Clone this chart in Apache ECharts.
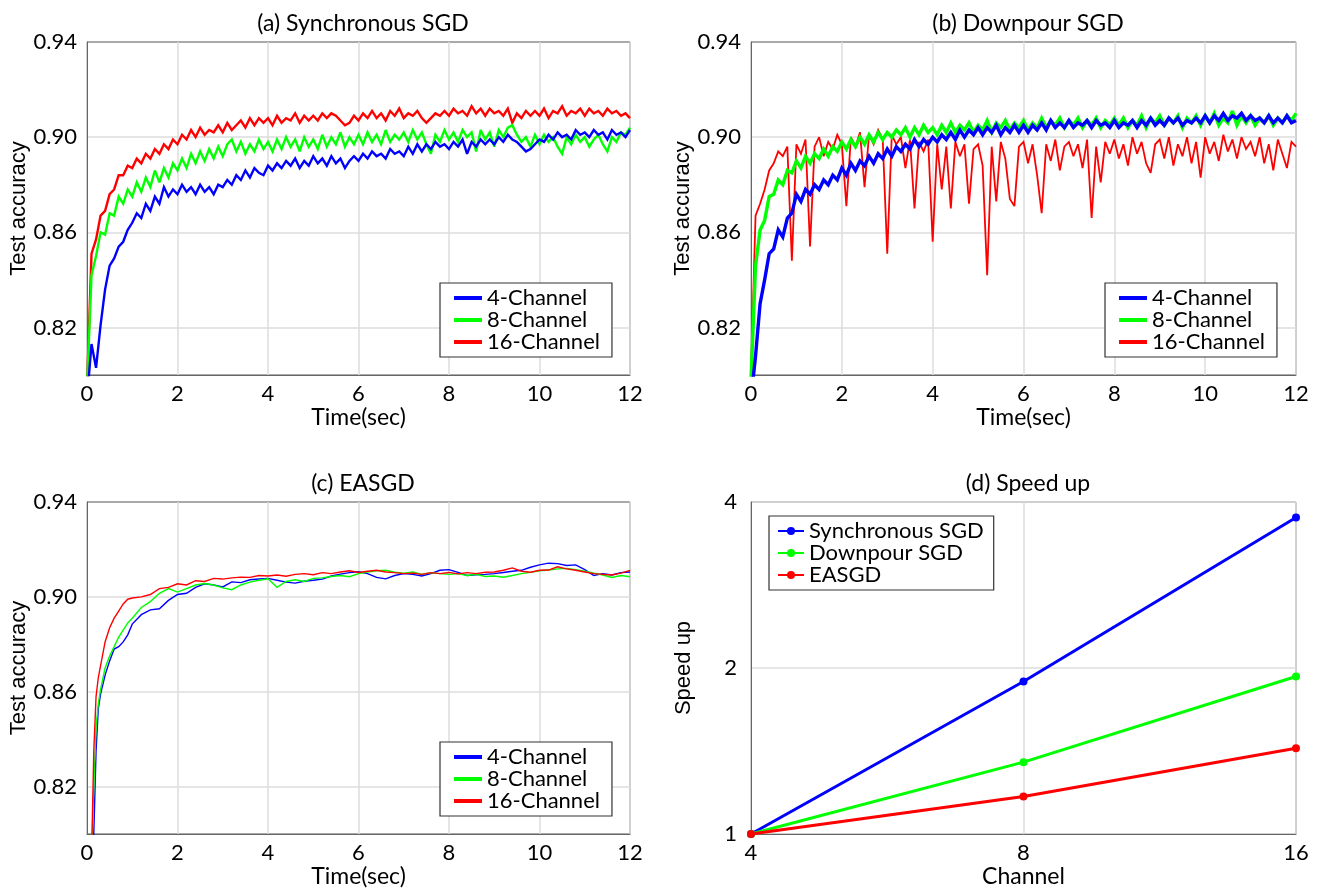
<!DOCTYPE html>
<html>
<head>
<meta charset="utf-8">
<script src="https://cdn.jsdelivr.net/npm/echarts@6/dist/echarts.min.js"></script>
<style>
html,body{margin:0;padding:0;background:#fff;}
#chart{width:1321px;height:891px;}
</style>
</head>
<body>
<div id="chart"></div>
<script>
// ---------- DATA ----------
// panels (a) and (b): samples every 0.1 s from 0 to 12 s
const timeStepAB = 0.1;
const sampleCountAB = 121;

const syncCh4 = [
0.790,0.813,0.803,0.821,0.836,0.846,0.849,0.854,0.856,0.861,
0.864,0.868,0.866,0.872,0.869,0.875,0.872,0.879,0.875,0.878,
0.876,0.880,0.877,0.879,0.876,0.880,0.877,0.879,0.876,0.880,
0.879,0.882,0.880,0.884,0.882,0.886,0.883,0.887,0.885,0.884,
0.888,0.886,0.889,0.887,0.890,0.888,0.891,0.887,0.890,0.888,
0.892,0.889,0.891,0.888,0.892,0.889,0.891,0.887,0.890,0.892,
0.890,0.893,0.891,0.894,0.892,0.893,0.891,0.895,0.893,0.894,
0.892,0.896,0.893,0.897,0.894,0.897,0.895,0.898,0.896,0.897,
0.895,0.898,0.896,0.899,0.893,0.898,0.896,0.899,0.897,0.899,
0.897,0.900,0.898,0.901,0.899,0.898,0.896,0.894,0.895,0.897,
0.899,0.898,0.901,0.899,0.902,0.900,0.901,0.899,0.903,0.901,
0.902,0.900,0.903,0.901,0.902,0.899,0.903,0.901,0.902,0.900,0.903];
const syncCh8 = [
0.795,0.842,0.850,0.860,0.859,0.868,0.867,0.875,0.872,0.878,
0.875,0.881,0.877,0.883,0.879,0.886,0.881,0.887,0.883,0.889,
0.886,0.891,0.887,0.893,0.889,0.894,0.890,0.895,0.891,0.896,
0.892,0.897,0.899,0.894,0.898,0.893,0.897,0.894,0.899,0.895,
0.898,0.894,0.899,0.895,0.900,0.896,0.899,0.894,0.900,0.896,
0.899,0.895,0.901,0.896,0.900,0.897,0.902,0.896,0.900,0.897,
0.901,0.897,0.902,0.898,0.901,0.897,0.903,0.898,0.901,0.899,
0.902,0.898,0.903,0.899,0.902,0.897,0.893,0.901,0.898,0.903,
0.899,0.902,0.898,0.903,0.900,0.902,0.894,0.903,0.899,0.902,
0.896,0.903,0.900,0.904,0.905,0.901,0.898,0.900,0.896,0.901,
0.897,0.901,0.898,0.900,0.896,0.893,0.900,0.897,0.901,0.898,
0.900,0.896,0.899,0.901,0.897,0.894,0.900,0.898,0.902,0.901,0.904];
const syncCh16 = [
0.795,0.851,0.857,0.867,0.869,0.876,0.878,0.884,0.884,0.888,
0.887,0.891,0.889,0.893,0.891,0.895,0.893,0.897,0.895,0.899,
0.897,0.901,0.899,0.903,0.900,0.904,0.901,0.903,0.902,0.905,
0.902,0.906,0.903,0.905,0.907,0.904,0.908,0.905,0.908,0.906,
0.908,0.905,0.909,0.906,0.908,0.907,0.910,0.906,0.909,0.907,
0.909,0.907,0.910,0.908,0.910,0.909,0.907,0.905,0.906,0.909,
0.907,0.910,0.908,0.911,0.908,0.910,0.907,0.911,0.909,0.912,
0.908,0.910,0.909,0.911,0.908,0.906,0.908,0.910,0.909,0.911,
0.909,0.912,0.910,0.911,0.909,0.913,0.910,0.912,0.909,0.912,
0.910,0.911,0.909,0.912,0.906,0.910,0.908,0.911,0.909,0.911,
0.909,0.912,0.908,0.911,0.910,0.913,0.909,0.911,0.910,0.912,
0.909,0.912,0.910,0.911,0.909,0.912,0.910,0.911,0.909,0.910,0.908];

const downCh4 = [
0.790,0.808,0.830,0.840,0.851,0.853,0.861,0.858,0.866,0.868,
0.876,0.873,0.878,0.876,0.880,0.878,0.882,0.880,0.884,0.882,
0.887,0.884,0.889,0.886,0.890,0.888,0.892,0.889,0.893,0.891,
0.895,0.892,0.896,0.894,0.897,0.895,0.899,0.896,0.899,0.897,
0.900,0.898,0.901,0.899,0.902,0.899,0.903,0.900,0.903,0.901,
0.904,0.901,0.904,0.902,0.905,0.901,0.904,0.902,0.905,0.902,
0.905,0.902,0.905,0.903,0.906,0.903,0.907,0.904,0.906,0.904,
0.907,0.904,0.906,0.905,0.907,0.904,0.907,0.905,0.906,0.904,
0.907,0.904,0.906,0.905,0.907,0.904,0.907,0.905,0.908,0.905,
0.907,0.905,0.908,0.906,0.908,0.905,0.907,0.906,0.908,0.906,
0.909,0.906,0.909,0.907,0.910,0.907,0.909,0.908,0.910,0.907,
0.909,0.907,0.908,0.906,0.909,0.906,0.908,0.906,0.909,0.906,0.907];
const downCh8 = [
0.798,0.846,0.861,0.865,0.875,0.876,0.882,0.880,0.886,0.885,
0.890,0.887,0.892,0.889,0.893,0.891,0.895,0.892,0.896,0.894,
0.898,0.895,0.899,0.896,0.900,0.897,0.901,0.898,0.902,0.899,
0.902,0.900,0.903,0.901,0.904,0.900,0.904,0.901,0.905,0.902,
0.904,0.901,0.905,0.902,0.906,0.902,0.905,0.903,0.906,0.902,
0.905,0.903,0.907,0.902,0.906,0.904,0.907,0.903,0.906,0.904,
0.907,0.903,0.906,0.904,0.908,0.904,0.907,0.905,0.908,0.904,
0.907,0.905,0.908,0.904,0.907,0.905,0.908,0.904,0.907,0.905,
0.908,0.905,0.908,0.904,0.907,0.905,0.909,0.904,0.908,0.906,
0.909,0.905,0.908,0.906,0.909,0.904,0.908,0.906,0.909,0.905,
0.909,0.906,0.910,0.905,0.908,0.906,0.911,0.905,0.909,0.906,
0.909,0.905,0.908,0.906,0.909,0.905,0.908,0.906,0.909,0.907,0.910];
const downCh16 = [
0.800,0.867,0.872,0.878,0.886,0.889,0.894,0.892,0.896,0.848,
0.897,0.893,0.899,0.854,0.896,0.900,0.892,0.898,0.895,0.901,
0.897,0.871,0.900,0.896,0.902,0.879,0.901,0.897,0.903,0.899,
0.851,0.901,0.897,0.900,0.887,0.899,0.870,0.898,0.894,0.899,
0.856,0.897,0.878,0.896,0.870,0.898,0.892,0.897,0.872,0.895,
0.897,0.888,0.842,0.896,0.873,0.898,0.891,0.874,0.871,0.896,
0.898,0.889,0.897,0.884,0.868,0.897,0.890,0.899,0.886,0.896,
0.898,0.892,0.897,0.887,0.899,0.866,0.896,0.881,0.898,0.893,
0.899,0.891,0.897,0.888,0.900,0.893,0.898,0.889,0.885,0.897,
0.899,0.891,0.900,0.888,0.897,0.892,0.900,0.889,0.898,0.883,
0.900,0.893,0.898,0.890,0.901,0.894,0.899,0.891,0.900,0.895,
0.898,0.892,0.900,0.889,0.897,0.886,0.899,0.893,0.887,0.898,0.896];

// panel (c): smoother curves, explicit sample times
const timeC = [0.1,0.15,0.2,0.25,0.3,0.4,0.5,0.6,0.7,0.8,0.9,
1.0,1.2,1.4,1.6,1.8,2.0,2.2,2.4,2.6,2.8,3.0,3.2,3.4,3.6,3.8,
4.0,4.2,4.4,4.6,4.8,5.0,5.2,5.4,5.6,5.8,6.0,6.2,6.4,6.6,6.8,
7.0,7.2,7.4,7.6,7.8,8.0,8.2,8.4,8.6,8.8,9.0,9.2,9.4,9.6,9.8,
10.0,10.2,10.4,10.6,10.8,11.0,11.2,11.4,11.6,11.8,12.0];
const easgdCh4 = [0.78,0.80,0.835,0.853,0.859,0.867,0.873,0.878,0.879,0.881,0.884,
0.8885,0.8925,0.8945,0.895,0.8985,0.901,0.9015,0.904,0.9055,0.905,
0.9042,0.9063,0.906,0.9072,0.9075,0.9078,0.907,0.9062,0.9058,0.9066,
0.907,0.9075,0.9088,0.9096,0.9102,0.9106,0.9098,0.9082,0.9076,0.909,
0.9098,0.9095,0.9088,0.9098,0.9112,0.9115,0.9103,0.909,0.9093,0.9095,
0.9098,0.9103,0.9108,0.9112,0.9125,0.9135,0.9142,0.914,0.9132,0.9135,
0.9115,0.909,0.9098,0.9092,0.9102,0.9105];
const easgdCh8 = [0.79,0.82,0.845,0.855,0.861,0.870,0.875,0.879,0.883,0.886,0.889,
0.891,0.8955,0.898,0.9015,0.9035,0.902,0.9035,0.905,0.9056,0.905,
0.9038,0.903,0.905,0.9062,0.907,0.9076,0.904,0.9065,0.9072,0.9065,
0.9078,0.908,0.9086,0.909,0.9085,0.9098,0.9105,0.911,0.9112,0.9104,
0.910,0.9105,0.9095,0.9102,0.9098,0.9095,0.9098,0.909,0.9095,0.9086,
0.9088,0.9083,0.909,0.9098,0.9103,0.911,0.9113,0.9118,0.912,0.9115,
0.9108,0.910,0.9092,0.9082,0.909,0.9085];
const easgdCh16 = [0.79,0.835,0.858,0.866,0.871,0.881,0.887,0.891,0.894,0.897,0.899,
0.8995,0.900,0.901,0.9035,0.904,0.9055,0.905,0.9068,0.9065,0.9078,
0.9075,0.908,0.9083,0.9082,0.909,0.9088,0.9092,0.9087,0.9095,0.9098,
0.9093,0.9102,0.9098,0.9105,0.911,0.9103,0.9108,0.9112,0.9105,0.9102,
0.9098,0.910,0.9095,0.9102,0.9098,0.9103,0.9097,0.9102,0.9098,0.9104,
0.9105,0.9112,0.9122,0.9108,0.9104,0.9112,0.9113,0.9127,0.9118,0.9112,
0.9105,0.9098,0.9095,0.9092,0.910,0.9112];

// panel (d)
const channels = [4, 8, 16];
const speedSync = [1, 1.89, 3.75];
const speedDownpour = [1, 1.35, 1.93];
const speedEasgd = [1, 1.17, 1.43];

const accTicks = [0.82, 0.86, 0.90, 0.94];
const seriesNames = ['4-Channel', '8-Channel', '16-Channel'];
const methodNames = ['Synchronous SGD', 'Downpour SGD', 'EASGD'];
const panelTitles = ['(a) Synchronous SGD', '(b) Downpour SGD', '(c) EASGD', '(d) Speed up'];

// ---------- STYLE / LAYOUT ----------
const BLUE = '#0000ff', GREEN = '#00ff00', RED = '#ff0000';
const FONT = 'Lato, "Liberation Sans", sans-serif';
const FONT2 = '"Liberation Sans", Arial, sans-serif';
const grids = [
  {left: 87, top: 42, width: 543, height: 333},
  {left: 751, top: 42, width: 545, height: 333},
  {left: 87, top: 502, width: 543, height: 332},
  {left: 751, top: 502, width: 545, height: 332}
];

const timesAB = [];
for (let i = 0; i < sampleCountAB; i++) timesAB.push(Math.round(i * timeStepAB * 10) / 10);
const pairs = (ts, vs) => vs.map((v, i) => [ts[i], v]);

function lineSeries(name, color, ts, vs, idx, width) {
  return {
    type: 'line', name, xAxisIndex: idx, yAxisIndex: idx,
    data: pairs(ts, vs), showSymbol: false, symbol: 'none',
    lineStyle: {color, width, join: 'miter', miterLimit: 3}, itemStyle: {color},
    clip: true, animation: false, emphasis: {disabled: true}
  };
}

const gridStyle = {show: true, borderColor: '#555', borderWidth: 1, backgroundColor: 'transparent'};

function accYAxis(idx) {
  return {
    gridIndex: idx, type: 'value', min: 0.80, max: 0.94,
    name: 'Test accuracy', nameLocation: 'middle', nameGap: 56,
    nameTextStyle: {fontFamily: FONT2, fontSize: 22, color: '#000'},
    axisLine: {show: true, lineStyle: {color: '#666', width: 1}},
    axisTick: {show: false, customValues: [0.82, 0.86, 0.90]},
    axisLabel: {customValues: accTicks, formatter: v => v.toFixed(2), fontFamily: FONT, fontSize: 22, color: '#000', margin: 10},
    splitLine: {show: true, lineStyle: {color: '#dcdcdc', width: 1.5}}
  };
}
function timeXAxis(idx) {
  return {
    gridIndex: idx, type: 'value', min: 0, max: 12, interval: 2,
    name: 'Time(sec)', nameLocation: 'middle', nameGap: 30,
    nameTextStyle: {fontFamily: FONT, fontSize: 23, color: '#000'},
    axisLine: {show: true, lineStyle: {color: '#666', width: 1}},
    axisTick: {show: false},
    axisLabel: {fontFamily: FONT, fontSize: 22, color: '#000', margin: 8},
    splitLine: {show: true, lineStyle: {color: '#dcdcdc', width: 1.5}}
  };
}

const legendBase = {
  orient: 'vertical', backgroundColor: '#fff', borderColor: '#333', borderWidth: 1.2,
  borderRadius: 0, itemGap: 0, textStyle: {fontFamily: FONT, fontSize: 22, color: '#000'},
  selectedMode: false
};

const titles = panelTitles.map((t, i) => ({
  text: t, left: [358, 1023, 358, 1023][i], top: i < 2 ? 7 : 467, textAlign: 'center',
  textStyle: {fontFamily: FONT, fontSize: 23, fontWeight: 'normal', color: '#000'}
}));

const option = {
  backgroundColor: '#fff',
  animation: false,
  title: titles,
  grid: grids.map(g => Object.assign({}, g, gridStyle, {containLabel: false})),
  xAxis: [timeXAxis(0), timeXAxis(1), timeXAxis(2), {
    gridIndex: 3, type: 'log', logBase: 2, min: 4, max: 16,
    name: 'Channel', nameLocation: 'middle', nameGap: 30,
    nameTextStyle: {fontFamily: FONT, fontSize: 23, color: '#000'},
    axisLine: {show: true, lineStyle: {color: '#666'}}, axisTick: {show: false},
    axisLabel: {fontFamily: FONT, fontSize: 22, color: '#000', margin: 8},
    splitLine: {show: true, lineStyle: {color: '#dcdcdc', width: 1.5}}
  }],
  yAxis: [accYAxis(0), accYAxis(1), accYAxis(2), {
    gridIndex: 3, type: 'log', logBase: 2, min: 1, max: 4,
    name: 'Speed up', nameLocation: 'middle', nameGap: 56,
    nameTextStyle: {fontFamily: FONT2, fontSize: 22, color: '#000'},
    axisLine: {show: true, lineStyle: {color: '#666'}}, axisTick: {show: false},
    axisLabel: {fontFamily: FONT, fontSize: 22, color: '#000', margin: 14},
    splitLine: {show: true, lineStyle: {color: '#dcdcdc', width: 1.5}}
  }],
  legend: [
    Object.assign({}, legendBase, {left: 440, top: 283, padding: [4, 12, 4, 14], data: seriesNames, icon: 'rect', itemWidth: 28, itemHeight: 4}),
    Object.assign({}, legendBase, {left: 1105, top: 283, padding: [4, 12, 4, 14], data: seriesNames, icon: 'rect', itemWidth: 28, itemHeight: 4}),
    Object.assign({}, legendBase, {left: 440, top: 742, padding: [4, 12, 4, 14], data: seriesNames, icon: 'rect', itemWidth: 28, itemHeight: 4}),
    Object.assign({}, legendBase, {left: 769, top: 516, padding: [4, 10, 4, 8], data: methodNames, itemWidth: 26, itemHeight: 10})
  ],
  series: [
    lineSeries('16-Channel', RED, timesAB, syncCh16, 0, 2.4),
    lineSeries('8-Channel', GREEN, timesAB, syncCh8, 0, 2.4),
    lineSeries('4-Channel', BLUE, timesAB, syncCh4, 0, 2.4),
    lineSeries('16-Channel', RED, timesAB, downCh16, 1, 1.8),
    lineSeries('8-Channel', GREEN, timesAB, downCh8, 1, 3.4),
    lineSeries('4-Channel', BLUE, timesAB, downCh4, 1, 3.4),
    lineSeries('4-Channel', BLUE, timeC, easgdCh4, 2, 1.4),
    lineSeries('8-Channel', GREEN, timeC, easgdCh8, 2, 1.4),
    lineSeries('16-Channel', RED, timeC, easgdCh16, 2, 1.4),
    ...[[methodNames[0], BLUE, speedSync], [methodNames[1], GREEN, speedDownpour], [methodNames[2], RED, speedEasgd]].map(([n, c, vals]) => ({
      type: 'line', name: n, xAxisIndex: 3, yAxisIndex: 3,
      data: pairs(channels, vals), symbol: 'circle', symbolSize: 8, showSymbol: true,
      lineStyle: {color: c, width: 3}, itemStyle: {color: c}, animation: false, emphasis: {disabled: true}
    }))
  ]
};

const chart = echarts.init(document.getElementById('chart'), null, {renderer: 'canvas'});
chart.setOption(option);
</script>
</body>
</html>
